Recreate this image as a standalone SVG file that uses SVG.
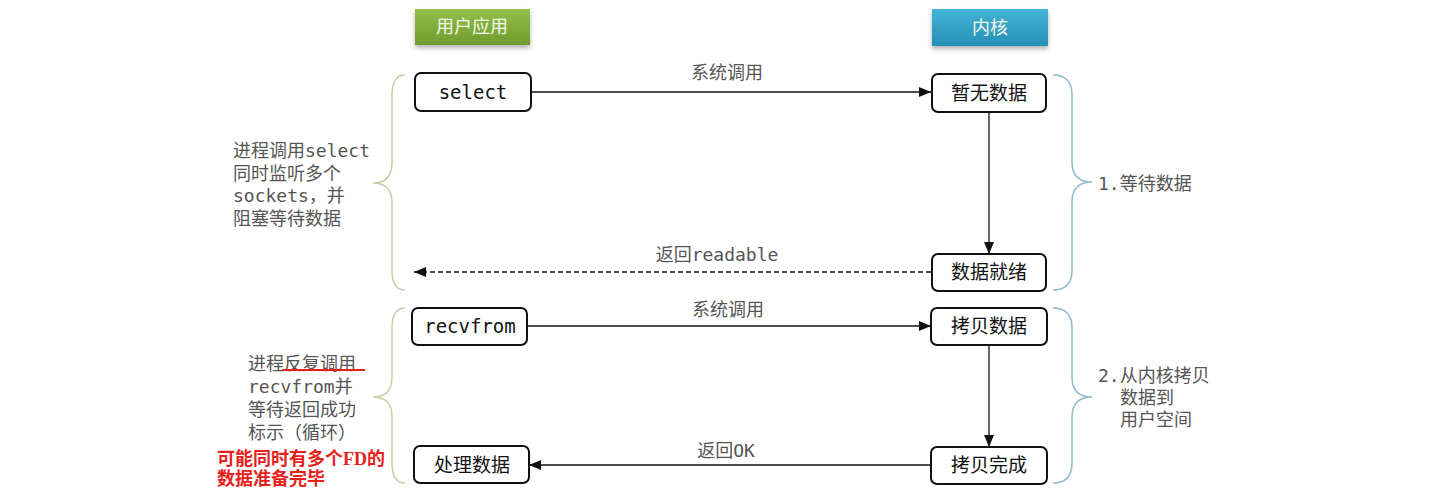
<svg xmlns="http://www.w3.org/2000/svg" width="1441" height="498" viewBox="0 0 1441 498">
<defs>
<linearGradient id="gGreen" x1="0" y1="0" x2="0" y2="1">
<stop offset="0" stop-color="#93c04a"/><stop offset="1" stop-color="#6f9b2f"/>
</linearGradient>
<linearGradient id="gBlue" x1="0" y1="0" x2="0" y2="1">
<stop offset="0" stop-color="#42b3d6"/><stop offset="1" stop-color="#2590b5"/>
</linearGradient>
<filter id="sh" x="-20%" y="-30%" width="140%" height="180%">
<feDropShadow dx="0" dy="3" stdDeviation="2.5" flood-color="#000" flood-opacity="0.3"/>
</filter>
<marker id="ah" viewBox="0 0 12 10" refX="12" refY="5" markerWidth="12" markerHeight="10" markerUnits="userSpaceOnUse" orient="auto">
<path d="M0,0 L12,5 L0,10 Z" fill="#111"/>
</marker>
</defs>
<style>
.box{fill:#fff;stroke:#111;stroke-width:2}
.nt{font-family:"DejaVu Sans Mono","Noto Sans CJK SC",monospace;font-size:19px;fill:#111;text-anchor:middle}
.hd{font-family:"Noto Sans CJK SC",sans-serif;font-size:18px;fill:#f4f8ea;text-anchor:middle}
.lb{font-family:"DejaVu Sans Mono","Noto Sans CJK SC",monospace;font-size:18px;fill:#555}
.lbm{font-family:"DejaVu Sans Mono","Noto Sans CJK SC",monospace;font-size:18px;fill:#555;text-anchor:middle}
.red{font-family:"Liberation Serif","Noto Sans CJK SC",serif;font-size:18px;font-weight:bold;fill:#e8201a}
.ln{stroke:#111;stroke-width:1.3;fill:none}
.bl{fill:none;stroke:#c9cfa2;stroke-width:1.5}
.br{fill:none;stroke:#8fbacd;stroke-width:1.5}
</style>
<rect width="1441" height="498" fill="#fff"/>

<g id="hdr-user">
<rect x="415" y="9" width="115" height="36" fill="url(#gGreen)" filter="url(#sh)"/>
<text class="hd" x="472" y="33">用户应用</text>
</g>
<g id="hdr-kernel">
<rect x="932" y="9" width="116" height="37" fill="url(#gBlue)" filter="url(#sh)"/>
<text class="hd" x="990" y="34">内核</text>
</g>

<g id="braces">
<path class="bl" d="M405,75 Q392,75 392,95 L392,163 Q392,183 373,183 Q392,183 392,203 L392,270 Q392,290 405,290"/>
<path class="bl" d="M405,308 Q392,308 392,328 L392,377 Q392,397 373,397 Q392,397 392,417 L392,463 Q392,483 405,483"/>
<path class="br" d="M1053,75 Q1072,75 1072,95 L1072,162 Q1072,182 1092,182 Q1072,182 1072,202 L1072,270 Q1072,290 1053,290"/>
<path class="br" d="M1053,308 Q1072,308 1072,328 L1072,377 Q1072,397 1092,397 Q1072,397 1072,417 L1072,463 Q1072,483 1053,483"/>
</g>

<g id="connectors">
<line class="ln" x1="531" y1="92" x2="931" y2="92" marker-end="url(#ah)"/>
<text class="lbm" x="727" y="79">系统调用</text>
<line class="ln" x1="989" y1="112" x2="989" y2="254" marker-end="url(#ah)"/>
<line class="ln" x1="931" y1="272" x2="414" y2="272" stroke-dasharray="5,3" marker-end="url(#ah)"/>
<text class="lbm" x="717" y="261">返回readable</text>
<line class="ln" x1="527" y1="326" x2="931" y2="326" marker-end="url(#ah)"/>
<text class="lbm" x="728" y="316">系统调用</text>
<line class="ln" x1="989" y1="345" x2="989" y2="447" marker-end="url(#ah)"/>
<line class="ln" x1="931" y1="465" x2="529" y2="465" marker-end="url(#ah)"/>
<text class="lbm" x="726" y="457">返回OK</text>
</g>

<g id="n-select">
<rect class="box" x="415" y="73" width="116" height="38" rx="6"/>
<text class="nt" x="473" y="99">select</text>
</g>
<g id="n-nodata">
<rect class="box" x="932" y="74" width="114" height="38" rx="6"/>
<text class="nt" x="989" y="100">暂无数据</text>
</g>
<g id="n-ready">
<rect class="box" x="932" y="254" width="114" height="37" rx="6"/>
<text class="nt" x="989" y="279">数据就绪</text>
</g>
<g id="n-recvfrom">
<rect class="box" x="412" y="308" width="115" height="37" rx="6"/>
<text class="nt" x="470" y="333">recvfrom</text>
</g>
<g id="n-copy">
<rect class="box" x="931" y="308" width="116" height="37" rx="6"/>
<text class="nt" x="989" y="333">拷贝数据</text>
</g>
<g id="n-process">
<rect class="box" x="414" y="446" width="115" height="37" rx="6"/>
<text class="nt" x="472" y="472">处理数据</text>
</g>
<g id="n-copydone">
<rect class="box" x="931" y="447" width="116" height="37" rx="6"/>
<text class="nt" x="989" y="472">拷贝完成</text>
</g>

<g id="note-left1">
<text class="lb" x="233" y="157">进程调用select</text>
<text class="lb" x="233" y="180">同时监听多个</text>
<text class="lb" x="233" y="202">sockets，并</text>
<text class="lb" x="233" y="225">阻塞等待数据</text>
</g>
<g id="note-left2">
<text class="lb" x="248" y="370">进程反复调用</text>
<line x1="282" y1="370" x2="365" y2="370" stroke="#e8201a" stroke-width="2"/>
<text class="lb" x="248" y="393">recvfrom并</text>
<text class="lb" x="248" y="416">等待返回成功</text>
<text class="lb" x="248" y="439">标示（循环）</text>
<text class="red" x="217" y="465">可能同时有多个FD的</text>
<text class="red" x="217" y="485">数据准备完毕</text>
</g>
<g id="note-right1">
<text class="lb" x="1098" y="190">1.等待数据</text>
</g>
<g id="note-right2">
<text class="lb" x="1098" y="382">2.从内核拷贝</text>
<text class="lb" x="1120" y="404">数据到</text>
<text class="lb" x="1120" y="426">用户空间</text>
</g>
</svg>
